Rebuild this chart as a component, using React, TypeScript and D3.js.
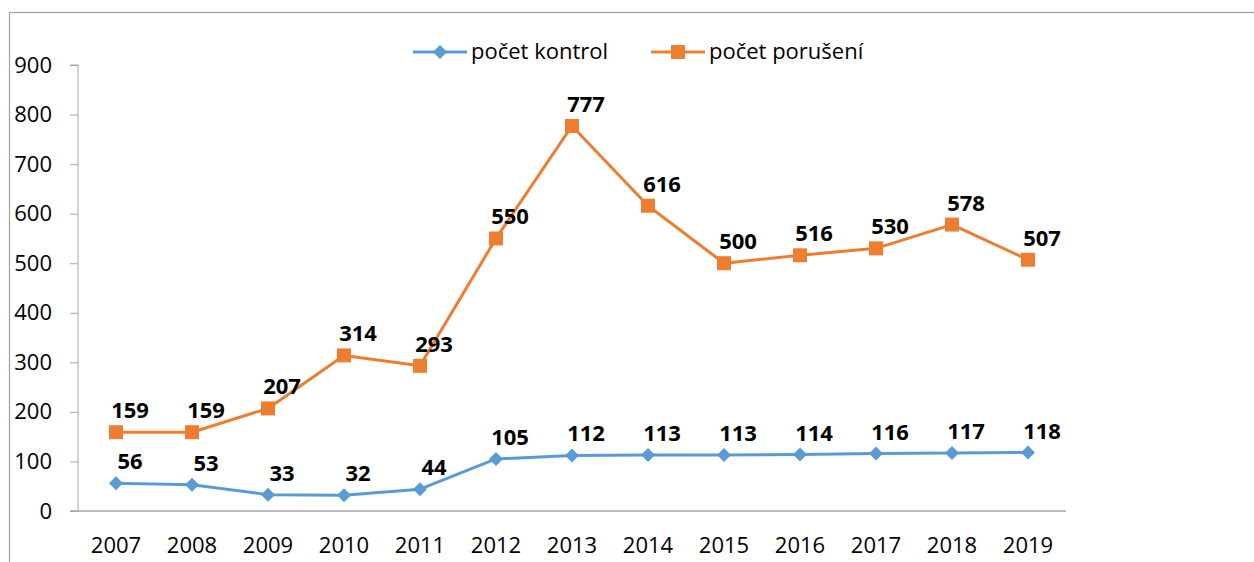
import React, { useEffect, useRef } from 'react';
import * as d3 from 'd3';

const years = ['2007', '2008', '2009', '2010', '2011', '2012', '2013', '2014', '2015', '2016', '2017', '2018', '2019'];
const kontrol = [56, 53, 33, 32, 44, 105, 112, 113, 113, 114, 116, 117, 118];
const poruseni = [159, 159, 207, 314, 293, 550, 777, 616, 500, 516, 530, 578, 507];
const yTicks = [0, 100, 200, 300, 400, 500, 600, 700, 800, 900];

const BLUE = '#5B9BD5';
const ORANGE = '#ED7D31';
const FONT = '"Open Sans", sans-serif';

// diamond / square markers drawn as polygons of half-size r
const diamond = (r: number) => `M0,${-r}L${r},0L0,${r}L${-r},0Z`;
const square = (r: number) => `M${-r},${-r}H${r}V${r}H${-r}Z`;

function App() {
  const svgRef = useRef<SVGSVGElement>(null);
  const width = 1254;
  const height = 562;

  useEffect(() => {
    const svg = d3.select(svgRef.current);
    svg.selectAll('*').remove();

    // chart frame (right/bottom edges sit outside the picture)
    svg.append('rect')
      .attr('x', 9.5).attr('y', 12.5)
      .attr('width', 1300).attr('height', 600)
      .attr('fill', '#fff').attr('stroke', '#A0A0A0').attr('stroke-width', 1.2);

    const x = d3.scaleBand().domain(years).range([78, 1066]);
    const y = d3.scaleLinear().domain([0, 900]).range([511, 65]);
    const cx = (d: string) => (x(d) as number) + x.bandwidth() / 2;

    // y axis
    const ya = svg.append('g').attr('transform', 'translate(78,0)')
      .call(d3.axisLeft(y).tickValues(yTicks).tickSize(8).tickPadding(18).tickFormat(d3.format('d')));
    ya.select('.domain').attr('stroke', '#A6A6A6').attr('d', `M-8,${y(900)}H0V${y(0)}`);
    ya.selectAll('.tick line').attr('stroke', '#A6A6A6');
    ya.selectAll('.tick text').attr('font-size', 22).attr('font-family', FONT).attr('fill', '#000');

    // x axis
    const xa = svg.append('g').attr('transform', `translate(0,${y(0)})`)
      .call(d3.axisBottom(x).tickSize(0).tickPadding(26));
    xa.select('.domain').attr('stroke', '#A6A6A6').attr('stroke-width', 1.5).attr('d', `M70,0H1066`);
    xa.selectAll('.tick text').attr('font-size', 22).attr('font-family', FONT).attr('fill', '#000');

    const series = [
      { name: 'počet kontrol', values: kontrol, color: BLUE, mark: diamond(7) },
      { name: 'počet porušení', values: poruseni, color: ORANGE, mark: square(7) },
    ];

    const line = d3.line<number>().x((_, i) => cx(years[i])).y((d) => y(d));

    series.forEach((s) => {
      const g = svg.append('g');
      g.append('path').datum(s.values).attr('d', line)
        .attr('fill', 'none').attr('stroke', s.color).attr('stroke-width', 3).attr('stroke-linejoin', 'round');
      g.selectAll('path.m').data(s.values).enter().append('path').attr('class', 'm')
        .attr('d', s.mark)
        .attr('transform', (d, i) => `translate(${cx(years[i])},${y(d)})`)
        .attr('fill', s.color);
      g.selectAll('text').data(s.values).enter().append('text')
        .attr('x', (d, i) => cx(years[i]) + 14)
        .attr('y', (d) => y(d) - 14)
        .attr('text-anchor', 'middle')
        .attr('font-size', 22).attr('font-weight', 'bold').attr('font-family', FONT)
        .text((d) => d);
    });

    // legend
    const legend = [
      { s: series[0], x0: 413 },
      { s: series[1], x0: 651 },
    ];
    legend.forEach(({ s, x0 }) => {
      const lg = svg.append('g').attr('transform', `translate(${x0},52)`);
      lg.append('line').attr('x1', 0).attr('x2', 54).attr('stroke', s.color).attr('stroke-width', 3);
      lg.append('path').attr('d', s.mark).attr('transform', 'translate(27,0)').attr('fill', s.color);
      lg.append('text').attr('x', 58).attr('y', 7).attr('font-size', 22).attr('font-family', FONT).text(s.name);
    });
  }, []);

  return (
    <svg ref={svgRef} width={width} height={height} style={{ position: 'absolute', left: 0, top: 0 }} />
  );
}

export default App;
